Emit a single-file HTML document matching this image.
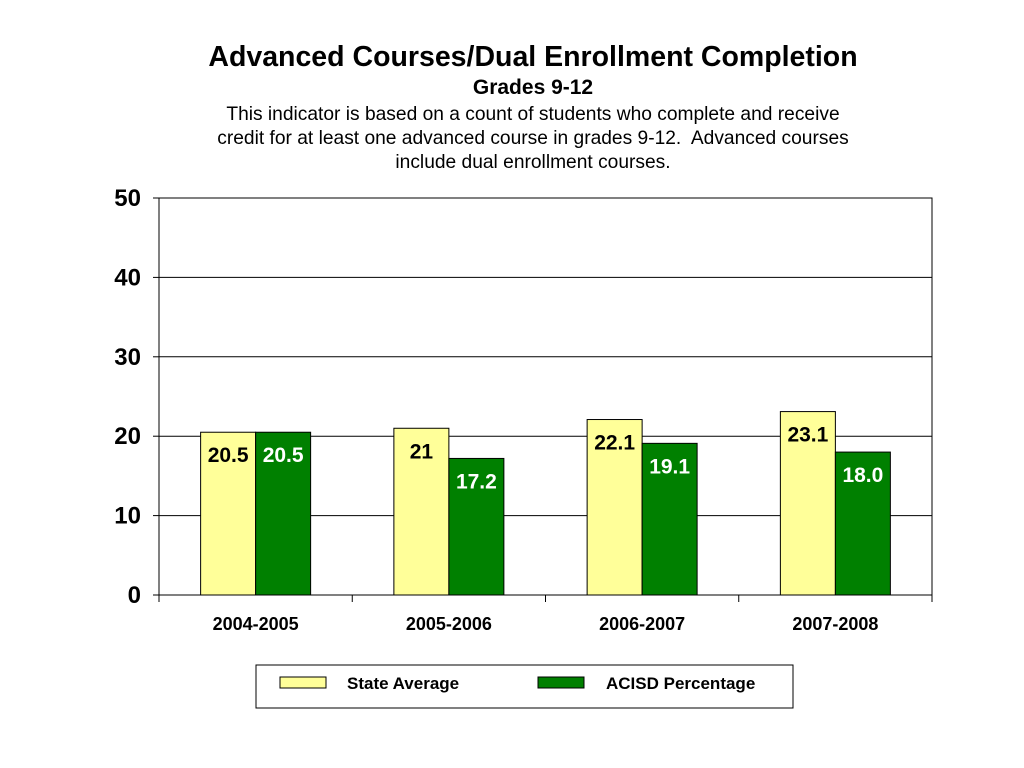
<!DOCTYPE html>
<html><head><meta charset="utf-8"><style>
body{margin:0;background:#fff;width:1024px;height:768px;overflow:hidden;font-family:"Liberation Sans",Arial,sans-serif}
.t{position:absolute;left:0;width:1066px;text-align:center;color:#000}
</style></head><body>
<div class="t" style="top:41px;font-size:28.5px;font-weight:bold">Advanced Courses/Dual Enrollment Completion</div>
<div class="t" style="top:76px;font-size:21px;font-weight:bold">Grades 9-12</div>
<div class="t" style="top:103px;font-size:19.2px;line-height:24px">This indicator is based on a count of students who complete and receive<br>credit for at least one advanced course in grades 9-12.&nbsp; Advanced courses<br>include dual enrollment courses.</div>
<svg id="c" width="1024" height="768" style="position:absolute;left:0;top:0" font-family="Liberation Sans, Arial, sans-serif"></svg>
<script>
const categories=["2004-2005","2005-2006","2006-2007","2007-2008"];
const stateValues=[20.5,21,22.1,23.1];
const stateLabels=["20.5","21","22.1","23.1"];
const acisdValues=[20.5,17.2,19.1,18.0];
const acisdLabels=["20.5","17.2","19.1","18.0"];
const yTicks=[0,10,20,30,40,50];
const seriesNames=["State Average","ACISD Percentage"];

const svg=document.getElementById('c');
const NS="http://www.w3.org/2000/svg";
const X0=159,X1=932,Y0=595,Y1=198,YMAX=50;
const y=v=>Y0-(v/YMAX)*(Y0-Y1);
const gw=(X1-X0)/categories.length;
const xc=i=>X0+gw*(i+0.5);
const BW=55;
function mk(tag,attrs,text){const e=document.createElementNS(NS,tag);for(const k in attrs)e.setAttribute(k,attrs[k]);if(text!==undefined)e.textContent=text;svg.appendChild(e);return e;}

yTicks.forEach(t=>{
  if(t>0){const g=mk('line',{x1:X0,x2:X1,y1:y(t),y2:y(t),stroke:'#000','stroke-width':1});
  
  }
  mk('line',{x1:X0-6,x2:X0,y1:y(t),y2:y(t),stroke:'#000'});
  const l=mk('text',{x:141,y:y(t)+8,'text-anchor':'end','font-size':24,'font-weight':'bold'},t);
  
  
});
const pa=mk('rect',{x:X0,y:Y1,width:X1-X0,height:Y0-Y1,fill:'none',stroke:'#000'});


for(let i=0;i<=categories.length;i++)mk('line',{x1:X0+gw*i,x2:X0+gw*i,y1:Y0,y2:Y0+7,stroke:'#000'});

categories.forEach((c,i)=>{
  const cx=xc(i);
  const b1=mk('rect',{x:cx-BW,y:y(stateValues[i]),width:BW,height:Y0-y(stateValues[i]),fill:'#ffff99',stroke:'#000'});
  
  
  const b2=mk('rect',{x:cx,y:y(acisdValues[i]),width:BW,height:Y0-y(acisdValues[i]),fill:'#008000',stroke:'#000'});
  
  
  const l1=mk('text',{x:cx-BW/2,y:y(stateValues[i])+30,'text-anchor':'middle','font-size':21,'font-weight':'bold',fill:'#000'},stateLabels[i]);
  
  
  const l2=mk('text',{x:cx+BW/2,y:y(acisdValues[i])+30,'text-anchor':'middle','font-size':21,'font-weight':'bold',fill:'#fff'},acisdLabels[i]);
  
  
  const xl=mk('text',{x:cx,y:630,'text-anchor':'middle','font-size':18,'font-weight':'bold'},c);
  
  
});

const lg=mk('rect',{x:256,y:665,width:537,height:43,fill:'#fff',stroke:'#000'});


[[280,347,'#ffff99'],[538,606,'#008000']].forEach((p,i)=>{
  const s=mk('rect',{x:p[0],y:677,width:46,height:11,fill:p[2],stroke:'#000'});
  
  
  const t=mk('text',{x:p[1],y:689,'font-size':17,'font-weight':'bold'},seriesNames[i]);
  
  
});
</script>
</body></html>
